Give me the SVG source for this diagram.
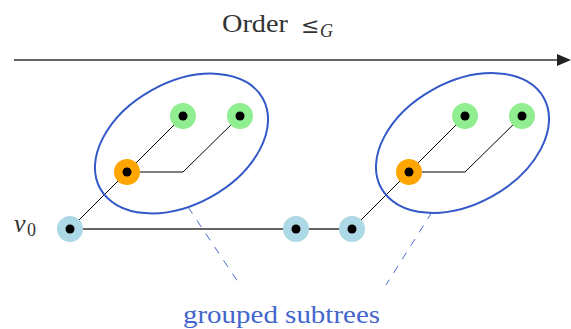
<svg xmlns="http://www.w3.org/2000/svg" width="571" height="329" viewBox="0 0 571 329">
<defs>
<marker id="ah" viewBox="0 0 14 12" refX="1" refY="6" markerWidth="14" markerHeight="12" markerUnits="userSpaceOnUse" orient="auto">
<path d="M0,0 L14,6 L0,12 Z" fill="#222"/>
</marker>
</defs>
<style>
.spine{stroke:#666;stroke-width:2;fill:none}
.edge{stroke:#000;stroke-width:1;fill:none}
.grp{stroke:#3358c8;stroke-width:2;fill:none}
.dash{stroke:#4a6bd0;stroke-width:1;stroke-dasharray:8,8;fill:none}
.blue{fill:#add8e6}
.orange{fill:#ffa500}
.green{fill:#90ee90}
.dot{fill:#000}
.t{font-family:"Liberation Serif","DejaVu Serif",serif;fill:#333}
</style>
<rect width="571" height="329" fill="#fff"/>
<text class="t" x="222" y="32" font-size="25" textLength="66" lengthAdjust="spacingAndGlyphs">Order</text>
<text x="301" y="33" font-size="22" font-family="DejaVu Serif, serif" fill="#333">≤</text>
<text class="t" x="320" y="37" font-size="18" font-style="italic">G</text>
<g id="connectors">
<line x1="14" y1="60" x2="558" y2="60" stroke="#333" stroke-width="1.3" marker-end="url(#ah)"/>
<line class="spine" x1="70" y1="229" x2="352" y2="229"/>
<line class="edge" x1="70" y1="229" x2="183" y2="116"/>
<polyline class="edge" points="127,172 183,172 240,116"/>
<line class="edge" x1="352" y1="229" x2="465" y2="116"/>
<polyline class="edge" points="409,172 465,172 522,116"/>
<line class="dash" x1="188" y1="207" x2="240" y2="285"/>
<line class="dash" x1="432" y1="212" x2="386" y2="285"/>
</g>
<g id="group1"><ellipse class="grp" cx="181.5" cy="143.5" rx="93" ry="61" transform="rotate(-29 181.5 143.5)"/></g>
<g id="group2"><ellipse class="grp" cx="462.5" cy="143" rx="93" ry="61" transform="rotate(-29 462.5 143)"/></g>
<g id="v0"><circle class="blue" cx="70" cy="229" r="13"/><circle class="dot" cx="70" cy="229" r="4.5"/><text class="t" x="14" y="232" font-size="26" font-style="italic">v</text><text class="t" x="27" y="236" font-size="18">0</text></g>
<g id="n1"><circle class="orange" cx="127" cy="172" r="13"/><circle class="dot" cx="127" cy="172" r="4.5"/></g>
<g id="n2"><circle class="green" cx="183" cy="116" r="13"/><circle class="dot" cx="183" cy="116" r="4.5"/></g>
<g id="n3"><circle class="green" cx="240" cy="116" r="13"/><circle class="dot" cx="240" cy="116" r="4.5"/></g>
<g id="n4"><circle class="blue" cx="296" cy="229" r="13"/><circle class="dot" cx="296" cy="229" r="4.5"/></g>
<g id="n5"><circle class="blue" cx="352" cy="229" r="13"/><circle class="dot" cx="352" cy="229" r="4.5"/></g>
<g id="n6"><circle class="orange" cx="409" cy="172" r="13"/><circle class="dot" cx="409" cy="172" r="4.5"/></g>
<g id="n7"><circle class="green" cx="465" cy="116" r="13"/><circle class="dot" cx="465" cy="116" r="4.5"/></g>
<g id="n8"><circle class="green" cx="522" cy="116" r="13"/><circle class="dot" cx="522" cy="116" r="4.5"/></g>
<g id="label"><text x="183" y="323" font-size="25" textLength="197" lengthAdjust="spacingAndGlyphs" font-family="Liberation Serif, DejaVu Serif, serif" fill="#4466cc">grouped subtrees</text></g>
</svg>
